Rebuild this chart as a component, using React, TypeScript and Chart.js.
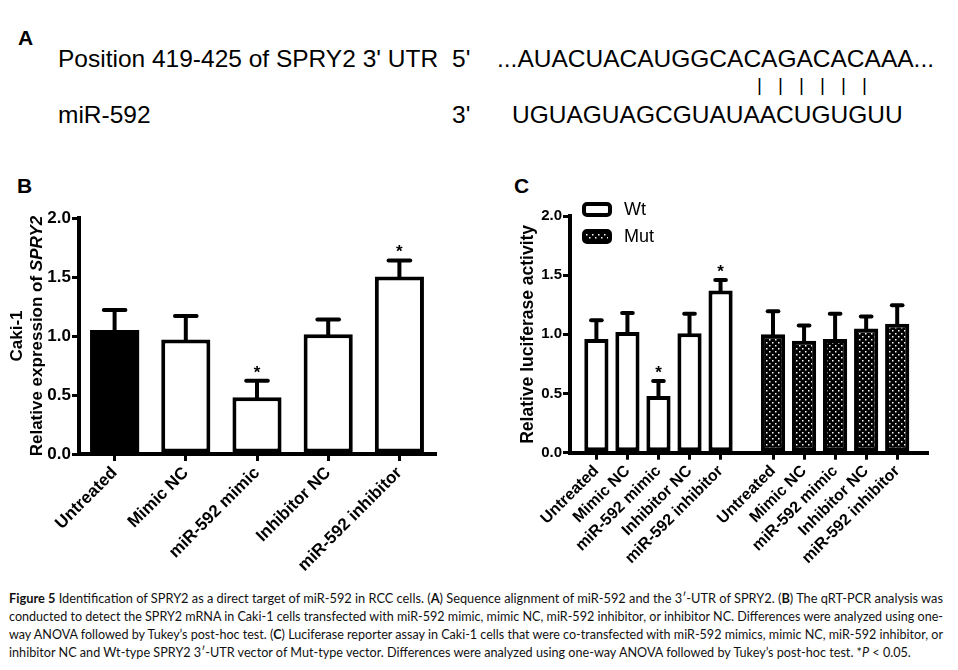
import React, { useEffect, useLayoutEffect, useRef } from "react";
import { Chart, registerables } from "chart.js";

Chart.register(...registerables);

// ---------- data ----------
const bCategories = ["Untreated", "Mimic NC", "miR-592 mimic", "Inhibitor NC", "miR-592 inhibitor"];
const bMeans = [1.05, 0.97, 0.48, 1.015, 1.505];
const bSD = [0.17, 0.2, 0.14, 0.125, 0.135];
const bSignificant = [false, false, true, false, true];

const cCategories = ["Untreated", "Mimic NC", "miR-592 mimic", "Inhibitor NC", "miR-592 inhibitor"];
const cWtMeans = [0.96, 1.02, 0.48, 1.01, 1.37];
const cWtSD = [0.16, 0.16, 0.125, 0.165, 0.09];
const cWtSignificant = [false, false, true, false, true];
const cMutMeans = [1.0, 0.945, 0.96, 1.05, 1.09];
const cMutSD = [0.195, 0.13, 0.215, 0.1, 0.155];
const cMutSignificant = [false, false, false, false, false];
const cSeriesLabels = ["Wt", "Mut"];

const yMin = 0;
const yMax = 2;
const yStep = 0.5;

// ---------- style ----------
const FONT = "'Liberation Sans', Arial, Helvetica, sans-serif";
const CAPTION_FONT = "Lato, 'Open Sans', sans-serif";
const CAPTION_WIDTH = 934;

function makeDotPattern(ctx: CanvasRenderingContext2D) {
  const c = document.createElement("canvas");
  c.width = 6;
  c.height = 6;
  const g = c.getContext("2d")!;
  g.fillStyle = "#000";
  g.fillRect(0, 0, 6, 6);
  g.fillStyle = "#fff";
  g.fillRect(1, 1, 1.5, 1.5);
  g.fillRect(4, 4, 1.5, 1.5);
  return ctx.createPattern(c, "repeat");
}

const errorBarPlugin = {
  id: "errorBars",
  afterDatasetsDraw(chart: any) {
    const ctx = chart.ctx;
    const yScale = chart.scales.y;
    chart.data.datasets.forEach((ds: any, di: number) => {
      const meta = chart.getDatasetMeta(di);
      if (!ds.errors) return;
      meta.data.forEach((bar: any, i: number) => {
        const raw = ds.data[i];
        const v = typeof raw === "object" ? raw.y : raw;
        const top = yScale.getPixelForValue(v + ds.errors[i]);
        const { x, y, width } = bar.getProps(["x", "y", "width"], true);
        ctx.save();
        ctx.strokeStyle = "#000";
        ctx.lineWidth = 4;
        ctx.lineCap = "butt";
        ctx.beginPath();
        ctx.moveTo(x, y + 2);
        ctx.lineTo(x, top);
        ctx.stroke();
        ctx.lineCap = "round";
        ctx.beginPath();
        ctx.moveTo(x - width * 0.22, top);
        ctx.lineTo(x + width * 0.22, top);
        ctx.stroke();
        if (ds.significant && ds.significant[i]) {
          ctx.fillStyle = "#000";
          ctx.font = `bold 17px ${FONT}`;
          ctx.textAlign = "center";
          ctx.textBaseline = "alphabetic";
          ctx.fillText("*", x, top - 3);
        }
        ctx.restore();
      });
    });
  },
};

function drawRotatedTitle(ctx: CanvasRenderingContext2D, x: number, cy: number, parts: { text: string; italic?: boolean }[], size: number) {
  ctx.save();
  ctx.translate(x, cy);
  ctx.rotate(-Math.PI / 2);
  ctx.textBaseline = "middle";
  ctx.textAlign = "left";
  ctx.fillStyle = "#000";
  const fonts = parts.map((p) => `${p.italic ? "italic " : ""}bold ${size}px ${FONT}`);
  let total = 0;
  const widths = parts.map((p, i) => {
    ctx.font = fonts[i];
    const w = ctx.measureText(p.text).width;
    total += w;
    return w;
  });
  let cx = -total / 2;
  parts.forEach((p, i) => {
    ctx.font = fonts[i];
    ctx.fillText(p.text, cx, 0);
    cx += widths[i];
  });
  ctx.restore();
}

const bTitlePlugin = {
  id: "bTitle",
  afterDraw(chart: any) {
    const { ctx, chartArea } = chart;
    const cy = (chartArea.top + chartArea.bottom) / 2;
    drawRotatedTitle(ctx, chartArea.left - 62, cy, [{ text: "Caki-1" }], 17);
    drawRotatedTitle(ctx, chartArea.left - 42, cy, [{ text: "Relative expression of " }, { text: "SPRY2", italic: true }], 17);
  },
};

const cTitlePlugin = {
  id: "cTitle",
  afterDraw(chart: any) {
    const { ctx, chartArea } = chart;
    const cy = (chartArea.top + chartArea.bottom) / 2;
    drawRotatedTitle(ctx, chartArea.left - 42, cy, [{ text: "Relative luciferase activity" }], 17.5);
  },
};

const cLegendPlugin = {
  id: "cLegend",
  afterDraw(chart: any) {
    const { ctx, chartArea } = chart;
    chart.data.datasets.forEach((ds: any, i: number) => {
      const bx = chartArea.left + 14;
      const by = chartArea.top - 12 + i * 27;
      const w = 26;
      const h = 11;
      ctx.save();
      ctx.beginPath();
      ctx.roundRect(bx, by, w, h, 3);
      ctx.fillStyle = ds.backgroundColor;
      ctx.fill();
      ctx.lineWidth = 4;
      ctx.strokeStyle = "#000";
      ctx.stroke();
      ctx.fillStyle = "#000";
      ctx.font = `18px ${FONT}`;
      ctx.textAlign = "left";
      ctx.textBaseline = "middle";
      ctx.fillText(ds.label, chartArea.left + 54, by + h / 2 + 1);
      ctx.restore();
    });
  },
};

function axisCommon(size: number) {
  return {
    grid: {
      display: true,
      drawOnChartArea: false,
      drawTicks: true,
      tickLength: 7,
      lineWidth: 3,
      tickWidth: 3,
      color: "#000",
      tickColor: "#000",
      offset: false,
    },
    border: { display: true, color: "#000", width: 4, z: 1 },
    ticks: { color: "#000", font: { family: FONT, size, weight: "bold" } },
  };
}

export default function App() {
  const bRef = useRef<HTMLCanvasElement>(null);
  const cRef = useRef<HTMLCanvasElement>(null);
  const capRefs = useRef<(HTMLDivElement | null)[]>([]);

  useEffect(() => {
    document.body.style.margin = "0";
    const bCanvas = bRef.current!;
    const cCanvas = cRef.current!;

    const bx = axisCommon(17);
    const chartB = new Chart(bCanvas, {
      type: "bar",
      data: {
        labels: bCategories,
        datasets: [
          {
            data: bMeans,
            errors: bSD,
            significant: bSignificant,
            backgroundColor: bCategories.map((_, i) => (i === 0 ? "#000" : "#fff")),
            borderColor: "#000",
            borderWidth: bCategories.map((_, i) => (i === 0 ? 0 : 4)),
            borderSkipped: false,
            barPercentage: 0.69,
            categoryPercentage: 1,
          } as any,
        ],
      },
      options: {
        responsive: false,
        animation: false,
        devicePixelRatio: 1,
        layout: { padding: { top: 18, right: 35, left: 0, bottom: 0 } },
        plugins: { legend: { display: false }, tooltip: { enabled: false } },
        scales: {
          x: {
            type: "category",
            offset: true,
            ...bx,
            ticks: { ...bx.ticks, minRotation: 45, maxRotation: 45, autoSkip: false, padding: 2 },
            afterFit: (s: any) => {
              s.height = 126;
            },
          },
          y: {
            min: yMin,
            max: yMax,
            ...bx,
            ticks: { ...bx.ticks, stepSize: yStep, padding: 1, callback: (v: any) => Number(v).toFixed(1) },
            afterFit: (s: any) => {
              s.width = 79;
            },
          },
        },
      } as any,
      plugins: [errorBarPlugin, bTitlePlugin],
    });

    const pattern = makeDotPattern(cCanvas.getContext("2d")!);
    const firstPos = 0.85;
    const groupStart = 5.69;
    const wtPos = cCategories.map((_, i) => firstPos + i);
    const mutPos = cCategories.map((_, i) => firstPos + groupStart + i);
    const tickPos = [...wtPos, ...mutPos];
    const tickLabels = [...cCategories, ...cCategories];
    const cx = axisCommon(15);

    const chartC = new Chart(cCanvas, {
      type: "bar",
      data: {
        datasets: [
          {
            label: cSeriesLabels[0],
            data: cWtMeans.map((v, i) => ({ x: wtPos[i], y: v })),
            errors: cWtSD,
            significant: cWtSignificant,
            backgroundColor: "#fff",
            borderColor: "#000",
            borderWidth: 4,
            borderSkipped: false,
            barPercentage: 0.78,
            categoryPercentage: 1,
            grouped: false,
          } as any,
          {
            label: cSeriesLabels[1],
            data: cMutMeans.map((v, i) => ({ x: mutPos[i], y: v })),
            errors: cMutSD,
            significant: cMutSignificant,
            backgroundColor: pattern,
            borderColor: "#000",
            borderWidth: 4,
            borderSkipped: false,
            barPercentage: 0.78,
            categoryPercentage: 1,
            grouped: false,
          } as any,
        ],
      },
      options: {
        responsive: false,
        animation: false,
        devicePixelRatio: 1,
        layout: { padding: { top: 16, right: 31, left: 0, bottom: 0 } },
        plugins: { legend: { display: false }, tooltip: { enabled: false } },
        scales: {
          x: {
            type: "linear",
            min: 0,
            max: 11.5,
            offset: false,
            ...cx,
            ticks: {
              ...cx.ticks,
              font: { family: FONT, size: 16, weight: "bold" },
              minRotation: 45,
              maxRotation: 45,
              autoSkip: false,
              padding: 2,
              callback: (_v: any, i: number) => tickLabels[i],
            },
            afterBuildTicks: (s: any) => {
              s.ticks = tickPos.map((v) => ({ value: v }));
            },
            afterFit: (s: any) => {
              s.height = 127.3;
            },
          },
          y: {
            min: yMin,
            max: yMax,
            ...cx,
            ticks: { ...cx.ticks, stepSize: yStep, padding: 1, callback: (v: any) => Number(v).toFixed(1) },
            afterFit: (s: any) => {
              s.width = 90;
            },
          },
        },
      } as any,
      plugins: [errorBarPlugin, cTitlePlugin, cLegendPlugin],
    });

    return () => {
      chartB.destroy();
      chartC.destroy();
    };
  }, []);

  useLayoutEffect(() => {
    const fit = () => {
      const els = capRefs.current;
      const scales: number[] = [];
      els.forEach((el, i) => {
        if (!el) return;
        el.style.transform = "none";
        const w = el.getBoundingClientRect().width;
        if (i < 3) {
          const s = CAPTION_WIDTH / w;
          scales.push(s);
          el.style.transform = `scaleX(${s})`;
        }
      });
      const avg = scales.reduce((a, b) => a + b, 0) / (scales.length || 1);
      const last = els[3];
      if (last) last.style.transform = `scaleX(${avg})`;
    };
    fit();
    (document as any).fonts?.ready?.then(fit);
  }, []);

  const txt = (left: number, top: number, size: number, content: React.ReactNode, extra: React.CSSProperties = {}) => (
    <div
      style={{
        position: "absolute",
        left,
        top,
        fontSize: size,
        lineHeight: 1,
        whiteSpace: "pre",
        fontFamily: FONT,
        color: "#000",
        ...extra,
      }}
    >
      {content}
    </div>
  );

  const capLine = (i: number, content: React.ReactNode) => (
    <div
      ref={(el) => {
        capRefs.current[i] = el;
      }}
      style={{
        position: "absolute",
        left: 9,
        top: 590.4 + i * 17.8,
        height: 17.8,
        lineHeight: "17.8px",
        fontSize: 13.5,
        fontFamily: CAPTION_FONT,
        whiteSpace: "nowrap",
        transformOrigin: "0 0",
        width: "max-content",
        color: "#111",
      }}
    >
      {content}
    </div>
  );

  return (
    <div style={{ position: "relative", width: 958, height: 670, background: "#fff", overflow: "hidden" }}>
      {txt(18, 27, 21, "A", { fontWeight: "bold" })}
      {txt(58, 47, 24.5, "Position 419-425 of SPRY2 3' UTR")}
      {txt(452, 47, 24.5, "5'")}
      {txt(497, 47, 24.5, "...AUACUACAUGGCACAGACACAAA...")}
      {txt(757, 75, 19, "| | | | | |", { letterSpacing: "5.4px" })}
      {txt(58, 103, 24.5, "miR-592")}
      {txt(452, 103, 24.5, "3'")}
      {txt(512, 103, 24.5, "UGUAGUAGCGUAUAACUGUGUU")}

      {txt(17, 175, 21, "B", { fontWeight: "bold" })}
      {txt(514, 175, 21, "C", { fontWeight: "bold" })}

      <canvas ref={bRef} width={470} height={380} style={{ position: "absolute", left: 0, top: 200, width: 470, height: 380 }} />
      <canvas ref={cRef} width={478} height={380} style={{ position: "absolute", left: 480, top: 200, width: 478, height: 380 }} />

      {capLine(
        0,
        <>
          <b>Figure 5</b> Identification of SPRY2 as a direct target of miR-592 in RCC cells. (<b>A</b>) Sequence alignment of miR-592 and the 3′-UTR of SPRY2. (<b>B</b>) The qRT-PCR analysis was
        </>
      )}
      {capLine(
        1,
        <>conducted to detect the SPRY2 mRNA in Caki-1 cells transfected with miR-592 mimic, mimic NC, miR-592 inhibitor, or inhibitor NC. Differences were analyzed using one-</>
      )}
      {capLine(
        2,
        <>
          way ANOVA followed by Tukey’s post-hoc test. (<b>C</b>) Luciferase reporter assay in Caki-1 cells that were co-transfected with miR-592 mimics, mimic NC, miR-592 inhibitor, or
        </>
      )}
      {capLine(
        3,
        <>
          inhibitor NC and Wt-type SPRY2 3′-UTR vector of Mut-type vector. Differences were analyzed using one-way ANOVA followed by Tukey’s post-hoc test. *<i>P</i> &lt; 0.05.
        </>
      )}
    </div>
  );
}
